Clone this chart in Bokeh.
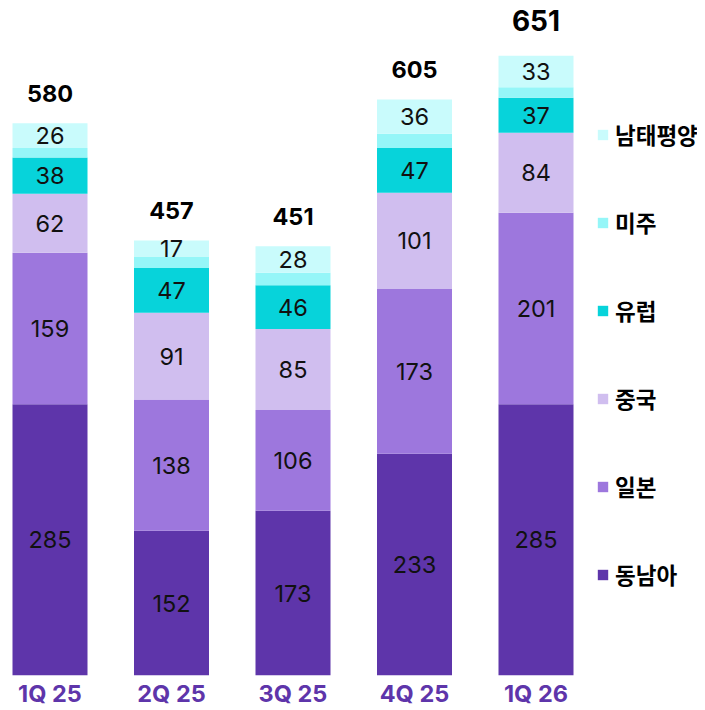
from bokeh.plotting import figure
from bokeh.models import ColumnDataSource, Range1d, FixedTicker, Legend, LegendItem
from bokeh.core.properties import value
from bokeh.embed import file_html
from bokeh.resources import INLINE

quarters = ["1Q 25", "2Q 25", "3Q 25", "4Q 25", "1Q 26"]
series = ["동남아", "일본", "중국", "유럽", "미주", "남태평양"]
sea = [285, 152, 173, 233, 285]
japan = [159, 138, 106, 173, 201]
china = [62, 91, 85, 101, 84]
europe = [38, 47, 46, 47, 37]
america = [10, 12, 13, 15, 11]
pacific = [26, 17, 28, 36, 33]
totals = [580, 457, 451, 605, 651]
show_label = [True, True, True, True, False, True]

colors = ["#5E35AA", "#9D77DD", "#D0BEEF", "#07D3DA", "#95F6F8", "#C9FBFC"]
FONT = "Inter"
KR = "Noto Sans CJK KR"

values = [sea, japan, china, europe, america, pacific]
xs = list(range(len(quarters)))

data = {"x": xs}
for name, vals in zip(series, values):
    data[name] = vals
src = ColumnDataSource(data)

PX_PER_UNIT_X = 121.5
PX_PER_UNIT_Y = 0.952
FW, FH = 697, 675
x0 = -49.5 / PX_PER_UNIT_X

p = figure(frame_width=FW, frame_height=FH, output_backend="svg", toolbar_location=None,
           x_range=Range1d(x0, x0 + FW / PX_PER_UNIT_X), y_range=Range1d(0, FH / PX_PER_UNIT_Y),
           min_border=0, min_border_left=0, min_border_right=0, min_border_top=0,
           min_border_bottom=30)
p.outline_line_color = None
p.grid.visible = False
p.yaxis.visible = False

renderers = p.vbar_stack(series, x="x", width=75 / PX_PER_UNIT_X, source=src, color=colors,
                         line_color=None)

# segment labels
bottoms = [0] * len(quarters)
for name, vals, show in zip(series, values, show_label):
    mids = [b + v / 2 for b, v in zip(bottoms, vals)]
    if show:
        p.text(x=xs, y=mids, text=[str(v) for v in vals], text_align="center",
               text_baseline="middle", text_font=value(FONT), text_font_size="23.5px",
               text_color="#111111")
    bottoms = [b + v for b, v in zip(bottoms, vals)]

# totals
last = len(quarters) - 1
p.text(x=xs[:last], y=totals[:last], text=[str(t) for t in totals[:last]], text_align="center",
       text_baseline="alphabetic", y_offset=-30, text_font=value(FONT), text_font_size="23.5px",
       text_font_style="bold", text_color="#000000")
p.text(x=[xs[last]], y=[totals[last]], text=[str(totals[last])], text_align="center",
       text_baseline="alphabetic", y_offset=-35, text_font=value(FONT), text_font_size="28px",
       text_font_style="bold", text_color="#000000")

ax = p.xaxis[0]
ax.ticker = FixedTicker(ticks=xs)
ax.major_label_overrides = {i: q for i, q in enumerate(quarters)}
ax.axis_line_color = None
ax.major_tick_line_color = None
ax.minor_tick_line_color = None
ax.major_label_standoff = -3
ax.major_label_text_font = FONT
ax.major_label_text_font_size = "23.5px"
ax.major_label_text_font_style = "bold"
ax.major_label_text_color = "#5E35AA"

items = [LegendItem(label=s, renderers=[r]) for s, r in zip(series, renderers)][::-1]
legend = Legend(items=items, location=(596, 85), orientation="vertical",
                glyph_width=13, glyph_height=13, label_height=20, label_standoff=6,
                spacing=56, padding=0, margin=0, border_line_color=None,
                background_fill_alpha=0, label_text_font=KR, label_text_font_size="22.5px",
                label_text_font_style="bold", label_text_color="#000000")
p.add_layout(legend)

open("out.html", "w").write(file_html(p, INLINE))
